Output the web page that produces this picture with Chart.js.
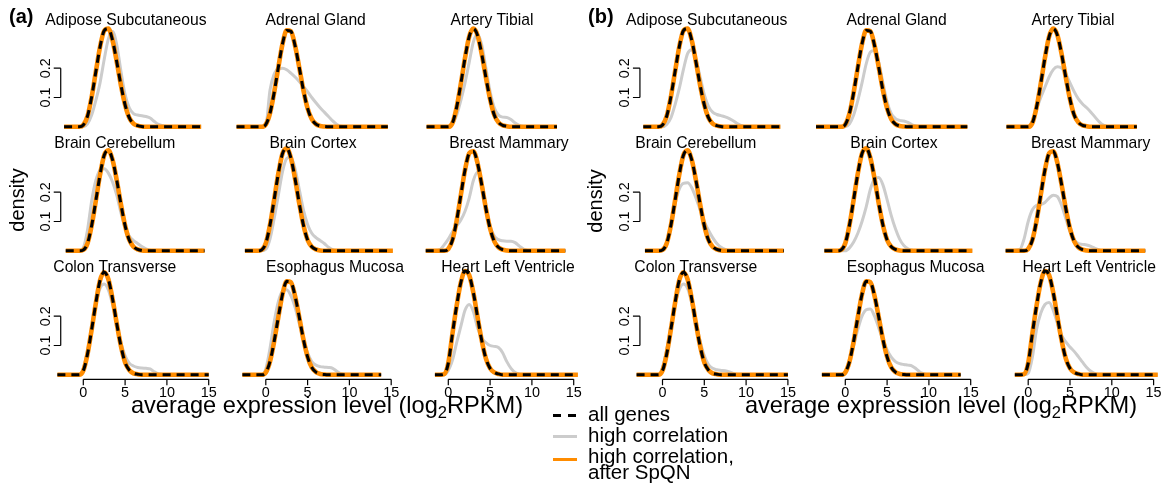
<!DOCTYPE html>
<html>
<head>
<meta charset="utf-8">
<script src="https://cdn.jsdelivr.net/npm/chart.js@4.4.1/dist/chart.umd.min.js"></script>
<style>
body{margin:0;background:#fff;font-family:"Liberation Sans",Arial,sans-serif}
#wrap{position:relative;width:1167px;height:487px;overflow:hidden;background:#fff}
#wrap canvas{position:absolute;left:0;top:0}
.t{position:absolute;white-space:nowrap;line-height:1;color:#000}
.t sub{font-size:70%;line-height:0;vertical-align:-0.3em}
.sw{position:absolute;height:0}
</style>
</head>
<body>
<div id="wrap"></div>
<script>
// ================= DATA =================

const tissues=["Adipose Subcutaneous","Adrenal Gland","Artery Tibial","Brain Cerebellum","Brain Cortex","Breast Mammary","Colon Transverse","Esophagus Mucosa","Heart Left Ventricle"]

const grid=[-1,-0.5,0,0.5,1,1.5,2,2.5,3,3.5,4,4.5,5,5.5,6,6.5,7,7.5,8,8.5,9,10,12]

// where each density curve starts and stops
const xFrom=[-2.3,-3.5,-2.6,-2.1,-2.5,-2.7,-3.1,-2.8,-1.6]
const xTo=[14.1,14.6,13.0,14.5,15.2,14.0,15.0,13.8,15.5]

// all genes (same curve in a and b, after SpQN lies on top of it)
const allGenes=[
[0,0,0.006,0.036,0.102,0.188,0.272,0.328,0.335,0.295,0.222,0.142,0.075,0.031,0.011,0.004,0.001,0,0,0,0,0,0],
[0,0,0.008,0.046,0.117,0.203,0.283,0.329,0.326,0.277,0.203,0.125,0.063,0.026,0.009,0.003,0.001,0,0,0,0,0,0],
[0,0,0,0.013,0.067,0.147,0.235,0.308,0.335,0.312,0.248,0.168,0.094,0.04,0.015,0.005,0.002,0,0,0,0,0,0],
[0,0,0.003,0.025,0.086,0.171,0.259,0.326,0.343,0.31,0.241,0.159,0.086,0.037,0.014,0.005,0.001,0,0,0,0,0,0],
[0,0.003,0.026,0.088,0.175,0.264,0.332,0.35,0.317,0.246,0.162,0.088,0.037,0.014,0.005,0.001,0,0,0,0,0,0,0],
[0,0,0.006,0.037,0.103,0.19,0.276,0.333,0.34,0.299,0.225,0.144,0.076,0.032,0.012,0.004,0.001,0,0,0,0,0,0],
[0,0,0.014,0.07,0.154,0.245,0.322,0.35,0.326,0.259,0.175,0.098,0.042,0.016,0.005,0.002,0,0,0,0,0,0,0],
[0,0,0.008,0.045,0.114,0.197,0.275,0.319,0.316,0.269,0.197,0.121,0.061,0.025,0.009,0.003,0.001,0,0,0,0,0,0],
[0,0.002,0.04,0.141,0.236,0.315,0.354,0.34,0.28,0.197,0.117,0.055,0.022,0.008,0.003,0,0,0,0,0,0,0,0]
]

// high correlation, panel (a)
const highCorA=[
[0,0,0,0.01,0.04,0.09,0.15,0.23,0.3,0.325,0.28,0.19,0.11,0.065,0.045,0.04,0.038,0.035,0.03,0.018,0.008,0.001,0],
[0,0,0.005,0.125,0.18,0.198,0.2,0.195,0.183,0.17,0.155,0.138,0.12,0.1,0.082,0.065,0.05,0.035,0.02,0.008,0.002,0,0],
[0,0,0,0.01,0.04,0.09,0.15,0.22,0.29,0.315,0.28,0.2,0.12,0.065,0.04,0.033,0.032,0.025,0.013,0.005,0.001,0,0],
[0,0,0.01,0.07,0.17,0.24,0.275,0.28,0.265,0.235,0.19,0.13,0.08,0.05,0.035,0.025,0.015,0.007,0.002,0,0,0,0],
[0,0,0.005,0.04,0.11,0.19,0.27,0.315,0.32,0.28,0.21,0.14,0.09,0.06,0.045,0.035,0.025,0.012,0.004,0.001,0,0,0],
[0.004,0.02,0.04,0.065,0.085,0.105,0.135,0.18,0.24,0.268,0.235,0.15,0.085,0.05,0.038,0.034,0.033,0.033,0.028,0.016,0.006,0,0],
[0,0,0.02,0.08,0.16,0.24,0.295,0.31,0.29,0.24,0.175,0.11,0.065,0.04,0.03,0.025,0.023,0.022,0.02,0.01,0.003,0,0],
[0,0,0.02,0.09,0.18,0.25,0.285,0.29,0.27,0.23,0.175,0.12,0.075,0.045,0.033,0.028,0.026,0.025,0.022,0.012,0.004,0,0],
[0,0,0.015,0.05,0.11,0.165,0.22,0.24,0.215,0.16,0.125,0.11,0.1,0.097,0.093,0.075,0.045,0.022,0.008,0.002,0,0,0]
]

// high correlation, panel (b)
const highCorB=[
[0,0,0,0.008,0.03,0.075,0.13,0.195,0.25,0.263,0.23,0.17,0.11,0.07,0.05,0.042,0.038,0.034,0.028,0.02,0.01,0,0],
[0,0,0,0.01,0.04,0.09,0.15,0.215,0.255,0.26,0.22,0.15,0.085,0.045,0.028,0.022,0.02,0.015,0.007,0.002,0,0,0],
[0,0,0,0.02,0.06,0.1,0.135,0.17,0.195,0.205,0.2,0.18,0.15,0.12,0.095,0.078,0.065,0.05,0.033,0.017,0.006,0,0],
[0,0,0,0.03,0.09,0.16,0.21,0.23,0.232,0.215,0.18,0.14,0.1,0.07,0.045,0.025,0.012,0.005,0.001,0,0,0,0],
[0,0,0,0.01,0.03,0.06,0.1,0.15,0.21,0.245,0.25,0.225,0.175,0.12,0.075,0.04,0.018,0.007,0.002,0,0,0,0],
[0.005,0.04,0.1,0.14,0.155,0.158,0.165,0.18,0.19,0.185,0.155,0.11,0.065,0.038,0.025,0.022,0.02,0.015,0.008,0.003,0,0,0],
[0,0,0.025,0.085,0.165,0.24,0.29,0.31,0.295,0.245,0.18,0.115,0.065,0.035,0.022,0.017,0.015,0.014,0.01,0.004,0.001,0,0],
[0,0,0.01,0.05,0.1,0.155,0.2,0.222,0.225,0.2,0.16,0.12,0.085,0.06,0.045,0.038,0.035,0.033,0.03,0.02,0.008,0,0],
[0,0,0.005,0.06,0.155,0.21,0.24,0.247,0.22,0.175,0.135,0.112,0.095,0.08,0.062,0.043,0.025,0.012,0.004,0.001,0,0,0]
]

const xTicks=[0,5,10,15]
const yTicks=[0.1,0.2]

// ================= LAYOUT =================

const W=1167,H=487
const PX=8.36,PY=293          // pixels per x unit / per density unit
const XMIN=-4,XMAX=16,YMIN=-0.05,YMAX=0.4
const BRACKET_X=-2.7
const colX0={a:[83.3,265.8,448.3],b:[662.5,845.3,1028.2]}
const rowY0=[126.8,250.8,374.8]
const titleX={a:[125.9,315.7,492,114.8,313,509,114.8,335,508],b:[706.7,896.6,1073,695.8,893.9,1090.6,695.8,915.6,1089.2]}
const titleBase=[25,148.5,272]

const wrap=document.getElementById("wrap")

function text(html,x,base,size,opts={}){
let d=document.createElement("div")
d.className="t"
d.innerHTML=html
d.style.fontSize=size+"px"
if(opts.bold) d.style.fontWeight="bold"
d.style.left=x+"px"
d.style.top=(base-0.8465*size)+"px"
if(opts.center) d.style.transform="translateX(-50%)"
wrap.appendChild(d)
return d
}

function vtext(str,cx,cy,size){
let d=document.createElement("div")
d.className="t"
d.textContent=str
d.style.fontSize=size+"px"
d.style.left=cx+"px"
d.style.top=cy+"px"
d.style.transform="translate(-50%,-50%) rotate(-90deg)"
wrap.appendChild(d)
}

// ================= AXES PLUGIN (R style) =================

const rAxes={
id:"rAxes",
afterDatasetsDraw(chart,args,o){
const ctx=chart.ctx,x=chart.scales.x,y=chart.scales.y
ctx.save()
ctx.strokeStyle="#000"
ctx.fillStyle="#000"
ctx.lineWidth=1.2
ctx.font='14.4px "Liberation Sans", Arial, sans-serif'
if(o.bottom){
let ay=y.getPixelForValue(0)+4.5
ctx.beginPath()
ctx.moveTo(x.getPixelForValue(xTicks[0]),ay)
ctx.lineTo(x.getPixelForValue(xTicks[xTicks.length-1]),ay)
xTicks.forEach(v=>{let p=x.getPixelForValue(v);ctx.moveTo(p,ay);ctx.lineTo(p,ay+6)})
ctx.stroke()
ctx.textAlign="center"
ctx.textBaseline="alphabetic"
xTicks.forEach(v=>ctx.fillText(String(v),x.getPixelForValue(v),ay+18))
}
if(o.left){
let ax=x.getPixelForValue(BRACKET_X)
ctx.beginPath()
ctx.moveTo(ax,y.getPixelForValue(yTicks[0]))
ctx.lineTo(ax,y.getPixelForValue(yTicks[yTicks.length-1]))
yTicks.forEach(v=>{let p=y.getPixelForValue(v);ctx.moveTo(ax,p);ctx.lineTo(ax-7,p)})
ctx.stroke()
ctx.textAlign="center"
ctx.textBaseline="alphabetic"
yTicks.forEach(v=>{
ctx.save()
ctx.translate(ax-11,y.getPixelForValue(v))
ctx.rotate(-Math.PI/2)
ctx.fillText(String(v),0,0)
ctx.restore()
})
}
ctx.restore()
}
}

// ================= PANELS =================

function points(i,vals){
let pts=[{x:xFrom[i],y:0}]
grid.forEach((g,k)=>pts.push({x:g,y:vals[k]}))
pts.push({x:xTo[i],y:0})
return pts
}

function panel(side,i,grey){
const col=i%3,row=Math.floor(i/3)
const x0=colX0[side][col],y0=rowY0[row]
const left=x0+XMIN*PX,right=x0+XMAX*PX
const top=y0-YMAX*PY,bottom=y0-YMIN*PY

let c=document.createElement("canvas")
c.width=W;c.height=H
wrap.appendChild(c)

new Chart(c,{
type:"line",
data:{datasets:[
{label:"all genes",data:points(i,allGenes[i]),borderColor:"#000000",borderWidth:3,borderDash:[8,6],order:0},
{label:"high correlation, after SpQN",data:points(i,allGenes[i]),borderColor:"#FF8C00",borderWidth:4.6,order:1},
{label:"high correlation",data:points(i,grey[i]),borderColor:"#CCCCCC",borderWidth:3,order:2}
]},
options:{
responsive:false,
animation:false,
events:[],
layout:{padding:{left:left,right:W-right,top:top,bottom:H-bottom}},
elements:{point:{radius:0},line:{cubicInterpolationMode:"monotone",fill:false}},
datasets:{line:{clip:false}},
scales:{
x:{type:"linear",min:XMIN,max:XMAX,display:false},
y:{type:"linear",min:YMIN,max:YMAX,display:false}
},
plugins:{legend:{display:false},tooltip:{enabled:false},rAxes:{bottom:row==2,left:col==0}}
},
plugins:[rAxes]
})

text(tissues[i],titleX[side][i],titleBase[row],15.7,{center:true})
}

for(let i=0;i<9;i++) panel("a",i,highCorA)
for(let i=0;i<9;i++) panel("b",i,highCorB)

// ================= LABELS =================

text("(a)",9,23,20,{bold:true})
text("(b)",588,23,20,{bold:true})
vtext("density",17,200,20)
vtext("density",595,201,20)
text("average expression level (log<sub>2</sub>RPKM)",327,414,23.6,{center:true})
text("average expression level (log<sub>2</sub>RPKM)",941,414,23.6,{center:true})

// ================= LEGEND =================

function swatch(x,y,w,color,h){
let s=document.createElement("div")
s.className="sw"
s.style.left=x+"px"
s.style.top=(y-h/2)+"px"
s.style.width=w+"px"
s.style.borderTop=h+"px solid "+color
wrap.appendChild(s)
}
swatch(553,415,8,"#000",3)
swatch(568,415,8,"#000",3)
swatch(553,436,24,"#CCCCCC",3)
swatch(553,459,24,"#FF8C00",3)
text("all genes",588,421,20.5)
text("high correlation",588,442,20.5)
text("high correlation,",588,463.5,20.5)
text("after SpQN",588,479,20.5)
</script>
</body>
</html>
